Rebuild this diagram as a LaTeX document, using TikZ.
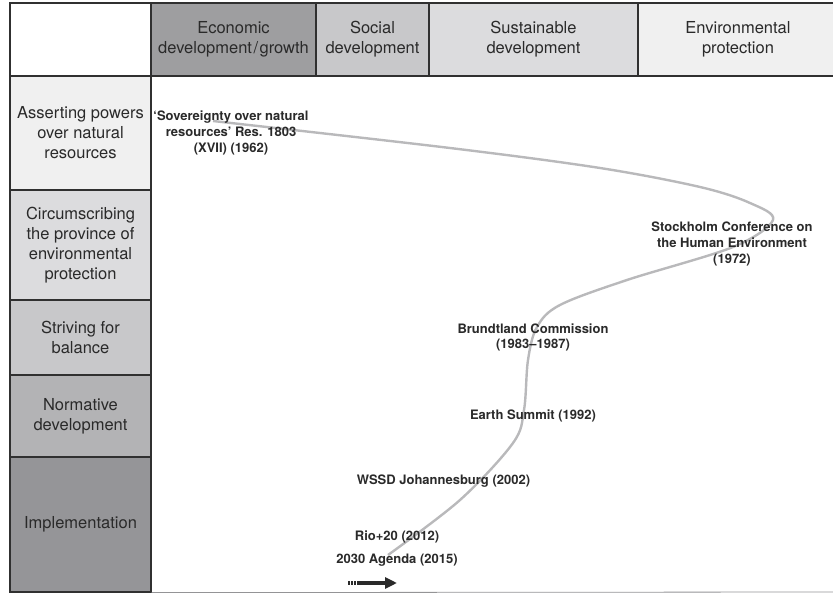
\documentclass[tikz,border=0pt]{standalone}
\usepackage{fontspec}
\setmainfont{TeX Gyre Heros}
\usetikzlibrary{arrows.meta}

\definecolor{cellborder}{HTML}{303030}
\definecolor{textdark}{HTML}{2A2A2A}
\definecolor{shadeA}{HTML}{F0F0F0}
\definecolor{shadeB}{HTML}{DCDCDE}
\definecolor{shadeC}{HTML}{C8C8CA}
\definecolor{shadeD}{HTML}{B3B3B5}
\definecolor{shadeE}{HTML}{959598}
\definecolor{shadeEcon}{HTML}{9E9EA0}
\definecolor{pathgray}{HTML}{B9B9BB}

\begin{document}
\begin{tikzpicture}[
    x=1pt,y=-1pt,
    cell/.style={draw=cellborder,line width=1.2pt,inner sep=0pt,align=center,
                 text=textdark,font=\fontsize{16.5}{20}\selectfont},
    rowcell/.style={cell,minimum width=141pt},
    event/.style={inner sep=0pt,align=center,text=textdark,
                  font=\fontsize{13}{15.7}\selectfont\bfseries},
    trend/.style={draw=pathgray,line width=2.4pt},
]
\useasboundingbox (0,0) rectangle (833,593);

% Header cells
\node[rowcell,fill=white,minimum height=73pt] (corner) at (80.5,39.5) {};
\node[cell,fill=shadeEcon,minimum width=165pt,minimum height=73pt] (econ) at (233.5,39.5)
    {Economic\\development\kern1.5pt/\kern1.5pt growth};
\node[cell,fill=shadeC,minimum width=113pt,minimum height=73pt] (social) at (372.5,39.5)
    {Social\\development};
\node[cell,fill=shadeB,minimum width=209pt,minimum height=73pt] (sustain) at (533.5,39.5)
    {Sustainable\\development};
\node[cell,fill=shadeA,minimum width=200pt,minimum height=73pt] (environ) at (738,39.5)
    {Environmental\\protection};

% Phase cells
\node[rowcell,fill=shadeA,minimum height=114pt] (assert) at (80.5,133)
    {Asserting powers\\over natural\\resources};
\node[rowcell,fill=shadeB,minimum height=110pt] (circum) at (80.5,245)
    {Circumscribing\\the province of\\environmental\\protection};
\node[rowcell,fill=shadeC,minimum height=75pt] (strive) at (80.5,337.5)
    {Striving for\\balance};
\node[rowcell,fill=shadeD,minimum height=82pt] (norm) at (80.5,416)
    {Normative\\development};
\node[rowcell,fill=shadeE,minimum height=135pt] (impl) at (80.5,524.5)
    {Implementation};

% Bottom rule
\coordinate (bottomend) at (833,592);
\draw[draw=pathgray!80!black,line width=0.8pt] (impl.south east) -- (bottomend);

% Trend curve
\draw[trend] plot[smooth,tension=0.55] coordinates {
    (213,121) (450,148) (600,168) (700,187) (750,203) (773,220)
    (733,247) (627,280) (560,305) (537,327) (528,360) (524,410)
    (513,443) (460,500) (388,555)};

% Events
\node[event] (sov) at (231,133)
    {`Sovereignty over natural\\resources' Res. 1803\\(XVII) (1962)};
\node[event] (stock) at (732,244)
    {Stockholm Conference on\\the Human Environment\\(1972)};
\node[event] (brund) at (533,337.5) {Brundtland Commission\\(1983--1987)};
\node[event] (earth) at (533,416) {Earth Summit (1992)};
\node[event] (wssd) at (443.5,481) {WSSD Johannesburg (2002)};
\node[event] (rio) at (397,537) {Rio+20 (2012)};
\node[event] (agenda) at (397,560) {2030 Agenda (2015)};

% Time arrow
\coordinate (tail) at (348,583);
\coordinate (mid) at (357,583);
\coordinate (head) at (397,583);
\draw[line width=4pt,textdark,dash pattern=on 1.6pt off 1.4pt] (tail) -- (mid);
\draw[line width=4pt,textdark,-{Triangle[length=12pt,width=11pt]}] (mid) -- (head);

\end{tikzpicture}
\end{document}
